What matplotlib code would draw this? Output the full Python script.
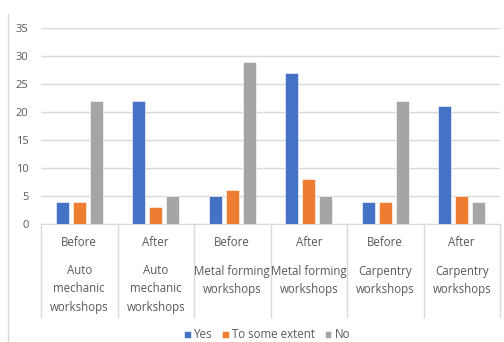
import matplotlib.pyplot as plt
import numpy as np
from matplotlib.transforms import blended_transform_factory

phases = ["Before", "After", "Before", "After", "Before", "After"]
workshops = ["Auto\nmechanic\nworkshops", "Auto\nmechanic\nworkshops",
             "Metal forming\nworkshops", "Metal forming\nworkshops",
             "Carpentry\nworkshops", "Carpentry\nworkshops"]
series_names = ["Yes", "To some extent", "No"]
yes = [4, 22, 5, 27, 4, 21]
some = [4, 3, 6, 8, 4, 5]
no = [22, 5, 29, 5, 22, 4]
colors = ["#4472C4", "#ED7D31", "#A5A5A5"]

plt.rcParams['font.family'] = ['Open Sans', 'DejaVu Sans']
txt = "#595959"

fig = plt.figure(figsize=(5.04, 3.42), dpi=100)
ax = fig.add_axes([41/504, 1-224/342, (500-41)/504, (224-28)/342])

x = np.arange(len(phases))
w = 0.17
off = 0.22
for i, (vals, name) in enumerate(zip([yes, some, no], series_names)):
    ax.bar(x + (i-1)*off, vals, w, color=colors[i], label=name,
           edgecolor="white", linewidth=0.4, zorder=3)

ax.set_xlim(-0.5, len(phases)-0.5)
ax.set_ylim(0, 35)
ax.set_yticks(range(0, 36, 5))
ax.yaxis.grid(True, color="#D9D9D9", linewidth=1, zorder=0)
ax.tick_params(axis='y', length=0, labelcolor=txt, labelsize=8, pad=9)
ax.set_xticks([])
for s in ["top", "right", "left"]:
    ax.spines[s].set_visible(False)
ax.spines["bottom"].set_color("#D9D9D9")

trans = blended_transform_factory(ax.transData, fig.transFigure)
for b in np.arange(-0.5, len(phases), 1.0):
    ax.plot([b, b], [1-224/342, 1-317/342], transform=trans, color="#D9D9D9",
            linewidth=1, clip_on=False)
for i in range(len(phases)):
    ax.text(i, 1-243/342, phases[i], transform=trans, ha="center", va="center",
            fontsize=8.3, color=txt)
    for k, line in enumerate(workshops[i].split("\n")):
        ax.text(i, 1-(271+18*k)/342, line, transform=trans, ha="center",
                va="center", fontsize=8.3, color=txt)

# chart border left edge
fig.add_artist(plt.Line2D([8/504, 8/504], [0, 1-14/342], color="#D9D9D9", linewidth=1))

fig.legend(loc="center", bbox_to_anchor=(0.53, 1-335/342), ncol=3, frameon=False,
           fontsize=8.3, handlelength=0.6, handleheight=0.6, handletextpad=0.3,
           columnspacing=0.8, labelcolor=txt, borderpad=0.1)

fig.savefig("out.png", dpi=100)
